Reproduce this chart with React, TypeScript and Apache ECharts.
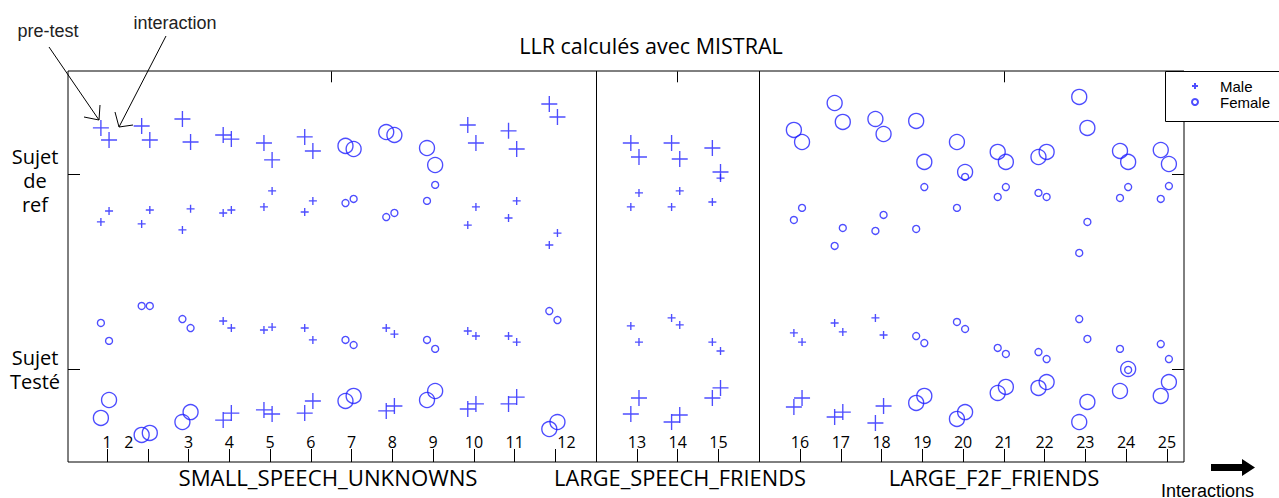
import React, { useEffect, useRef } from "react";
import * as echarts from "echarts";

// ---------- data ----------
const interactionLabels = ["1","2","3","4","5","6","7","8","9","10","11","12","13","14","15","16","17","18","19","20","21","22","23","24","25"];
const groupNames = ["SMALL_SPEECH_UNKNOWNS", "LARGE_SPEECH_FRIENDS", "LARGE_F2F_FRIENDS"];
const groupOf = [0,0,0,0,0,0,0,0,0,0,0,0,1,1,1,2,2,2,2,2,2,2,2,2,2];
const refGender = ["M","M","M","M","M","M","F","F","F","M","M","M","M","M","M","F","F","F","F","F","F","F","F","F","F"];
const testGender = ["F","F","F","M","M","M","F","M","F","M","M","F","M","M","M","M","M","M","F","F","F","F","F","F","F"];

// Sujet de ref (large markers): pre-test / interaction
const refLargePre = [12.36,12.46,12.82,12.00,11.59,11.90,11.44,12.15,11.33,12.51,12.21,13.59,11.59,11.59,11.33,12.26,13.64,12.82,12.72,11.64,11.13,10.87,13.95,11.18,11.23];
const refLargeInt = [11.74,11.74,11.64,11.79,10.72,11.18,11.28,12.00,10.46,11.59,11.28,12.92,10.87,10.77,10.10,11.64,12.67,12.05,10.62,10.10,10.62,11.13,12.36,10.62,10.51];
// Sujet de ref (small markers)
const refSmallPre = [7.54,7.44,7.13,8.00,8.31,8.05,8.51,7.79,8.62,7.38,7.74,6.36,8.31,8.31,8.56,7.64,6.31,7.08,7.18,8.26,8.82,9.03,5.95,8.77,8.72];
const refSmallInt = [8.10,8.15,8.21,8.15,9.13,8.62,8.72,8.00,9.44,8.31,8.62,6.97,9.03,9.13,9.79,8.26,7.23,7.90,9.33,9.85,9.33,8.82,7.54,9.33,9.38];
// Sujet testé (small markers)
const testSmallPre = [2.36,3.23,2.56,2.46,2.00,2.10,1.49,2.10,1.49,1.95,1.69,2.97,2.21,2.62,1.38,1.85,2.36,2.62,1.69,2.41,1.08,0.87,2.56,1.03,1.28];
const testSmallInt = [1.44,3.23,2.10,2.10,2.15,1.49,1.23,1.79,1.03,1.69,1.38,2.51,1.38,2.26,0.92,1.38,1.90,1.74,1.33,2.05,0.77,0.51,1.54,-0.05,0.51];
// Sujet testé (large markers)
const testLargePre = [-2.51,-3.38,-2.72,-2.62,-2.10,-2.26,-1.64,-2.15,-1.59,-2.05,-1.79,-3.08,-2.31,-2.72,-1.49,-1.95,-2.46,-2.77,-1.74,-2.56,-1.23,-0.97,-2.72,-1.13,-1.38];
const testLargeInt = [-1.59,-3.28,-2.21,-2.26,-2.31,-1.64,-1.38,-1.90,-1.13,-1.79,-1.44,-2.72,-1.49,-2.36,-0.97,-1.49,-2.21,-1.90,-1.38,-2.21,-0.92,-0.67,-1.69,0.00,-0.67];

const yTickValues = [0, 10];
const topTickValues = [6.5, 15, 23];

// ---------- layout / style ----------
const X_MIN = 0.043;
const X_MAX = 27.42;
const Y_MIN = -4.77;
const Y_MAX = 15.28;
const TOP_TICK_LEN = 0.56; // in y units (~11px)
const PRE_OFFSET = -0.15;
const INT_OFFSET = 0.05;
const BLUE = "#2020ff";
const CALIBRI = "'Open Sans', 'Noto Sans', sans-serif";
const ARIAL = "'Liberation Sans', Arial, sans-serif";

const positions = interactionLabels.map((_, i) => i + 1 + groupOf[i]);
const separators: number[] = [];
for (let i = 1; i < positions.length; i++) {
  if (groupOf[i] !== groupOf[i - 1]) separators.push((positions[i] + positions[i - 1]) / 2);
}

const SIZE = { M: { large: 16, small: 8 }, F: { large: 15, small: 7 } } as const;

function buildPoints() {
  const male: any[] = [];
  const female: any[] = [];
  const push = (g: string, x: number, y: number, kind: "large" | "small") => {
    const item = { value: [x, y], symbolSize: SIZE[g as "M" | "F"][kind] };
    (g === "M" ? male : female).push(item);
  };
  positions.forEach((p, i) => {
    push(refGender[i], p + PRE_OFFSET, refLargePre[i], "large");
    push(refGender[i], p + INT_OFFSET, refLargeInt[i], "large");
    push(refGender[i], p + PRE_OFFSET, refSmallPre[i], "small");
    push(refGender[i], p + INT_OFFSET, refSmallInt[i], "small");
    push(testGender[i], p + PRE_OFFSET, testSmallPre[i], "small");
    push(testGender[i], p + INT_OFFSET, testSmallInt[i], "small");
    push(testGender[i], p + PRE_OFFSET, testLargePre[i], "large");
    push(testGender[i], p + INT_OFFSET, testLargeInt[i], "large");
  });
  return { male, female };
}

function buildOption() {
  const { male, female } = buildPoints();
  const markerStyle = { color: "rgba(0,0,0,0)", borderColor: BLUE, borderWidth: 1.35 };
  const labelFont = { fontFamily: CALIBRI, fontSize: 16, color: "#000" };
  const tickStyle = { color: "#000", width: 1 };
  const topEdge = Y_MAX - 0.02;
  const markLineData: any[] = [
    ...separators.map((s) => ({ xAxis: s })),
    ...topTickValues.map((t) => [{ coord: [t, topEdge] }, { coord: [t, topEdge - TOP_TICK_LEN] }]),
  ];
  return {
    animation: false,
    backgroundColor: "#fff",
    grid: {
      left: 68, right: 95, top: 71, bottom: 36,
      show: true, borderColor: "#000", borderWidth: 1, backgroundColor: "rgba(0,0,0,0)",
      outerBoundsMode: "none",
    },
    xAxis: {
      type: "value", min: X_MIN, max: X_MAX, position: "bottom",
      axisLine: { show: false, onZero: false }, splitLine: { show: false },
      axisTick: { show: true, inside: true, length: 13, customValues: positions, lineStyle: tickStyle },
      axisLabel: {
        show: true, inside: true, margin: 12, customValues: positions, hideOverlap: false,
        ...labelFont,
        formatter: (v: number) => {
          const i = positions.findIndex((p) => Math.abs(p - v) < 1e-6);
          const lab = i >= 0 ? interactionLabels[i] : "";
          const key = lab === "2" ? "sl" : lab === "12" ? "sr" : "n";
          return `{${key}|${lab}}`;
        },
        rich: {
          n: { ...labelFont },
          sl: { ...labelFont, padding: [0, 38, 0, 0] },
          sr: { ...labelFont, padding: [0, 0, 0, 22] },
        },
      },
    },
    yAxis: [
      {
        type: "value", min: Y_MIN, max: Y_MAX, position: "left",
        axisLine: { show: false, onZero: false }, splitLine: { show: false }, axisLabel: { show: false },
        axisTick: { show: true, inside: true, length: 12, customValues: yTickValues, lineStyle: tickStyle },
      },
      {
        type: "value", min: Y_MIN, max: Y_MAX, position: "right",
        axisLine: { show: false, onZero: false }, splitLine: { show: false }, axisLabel: { show: false },
        axisTick: { show: true, inside: true, length: 12, customValues: yTickValues, lineStyle: tickStyle },
      },
    ],
    legend: {
      data: ["Male", "Female"],
      orient: "vertical",
      left: 1191, top: 78,
      itemWidth: 40, itemHeight: 6, itemGap: 0,
      padding: 0,
      selectedMode: false,
      textStyle: { fontFamily: ARIAL, fontSize: 15, color: "#000", lineHeight: 16 },
      z: 10,
    },
    series: [
      {
        name: "Male", type: "scatter", xAxisIndex: 0, yAxisIndex: 0,
        symbol: "path://M0,5L10,5M5,0L5,10", symbolKeepAspect: true,
        itemStyle: markerStyle, emphasis: { disabled: true }, silent: true,
        clip: false,
        data: male,
        markLine: {
          silent: true, symbol: ["none", "none"], label: { show: false },
          lineStyle: { color: "#000", type: "solid", width: 1 },
          emphasis: { disabled: true },
          data: markLineData,
        },
      },
      {
        name: "Female", type: "scatter", xAxisIndex: 0, yAxisIndex: 0,
        symbol: "circle", symbolKeepAspect: true,
        itemStyle: markerStyle, emphasis: { disabled: true }, silent: true,
        data: female,
      },
    ],
    graphic: [
      { type: "text", x: 651, y: 45, style: { text: "LLR calculés avec MISTRAL", fontFamily: CALIBRI, fontSize: 21.5, fill: "#000", align: "center", verticalAlign: "middle" } },
      { type: "text", x: 35, y: 180, style: { text: "Sujet\nde\nref", fontFamily: CALIBRI, fontSize: 20, lineHeight: 24, fill: "#000", align: "center", verticalAlign: "middle" } },
      { type: "text", x: 35, y: 369, style: { text: "Sujet\nTesté", fontFamily: CALIBRI, fontSize: 20, lineHeight: 24, fill: "#000", align: "center", verticalAlign: "middle" } },
      { type: "text", x: 328, y: 477, style: { text: groupNames[0], fontFamily: CALIBRI, fontSize: 22.2, fill: "#000", align: "center", verticalAlign: "middle" } },
      { type: "text", x: 680, y: 477, style: { text: groupNames[1], fontFamily: CALIBRI, fontSize: 21.8, fill: "#000", align: "center", verticalAlign: "middle" } },
      { type: "text", x: 994, y: 477, style: { text: groupNames[2], fontFamily: CALIBRI, fontSize: 22.1, fill: "#000", align: "center", verticalAlign: "middle" } },
      { type: "text", x: 48, y: 31, style: { text: "pre-test", fontFamily: ARIAL, fontSize: 18, fill: "#222", align: "center", verticalAlign: "middle" } },
      { type: "text", x: 175, y: 23, style: { text: "interaction", fontFamily: ARIAL, fontSize: 18, fill: "#222", align: "center", verticalAlign: "middle" } },
      { type: "line", shape: { x1: 49, y1: 47, x2: 99, y2: 120 }, style: { stroke: "#000", lineWidth: 1 } },
      { type: "polyline", shape: { points: [[100, 105], [99, 120], [84, 117]] }, style: { stroke: "#000", lineWidth: 1, fill: null } },
      { type: "line", shape: { x1: 166, y1: 36, x2: 119, y2: 127 }, style: { stroke: "#000", lineWidth: 1 } },
      { type: "polyline", shape: { points: [[115, 112], [119, 127], [133, 125]] }, style: { stroke: "#000", lineWidth: 1, fill: null } },
      { type: "rect", z: 5, shape: { x: 1165.5, y: 71.5, width: 130, height: 50 }, style: { fill: "#fff", stroke: "#000", lineWidth: 1 } },
      { type: "polygon", shape: { points: [[1211, 464], [1242, 464], [1242, 459], [1255, 467.5], [1242, 476], [1242, 471], [1211, 471]] }, style: { fill: "#000" } },
      { type: "text", x: 1161, y: 491, style: { text: "Interactions", fontFamily: ARIAL, fontSize: 18, fill: "#000", align: "left", verticalAlign: "middle" } },
    ],
  };
}

export default function App() {
  const ref = useRef<HTMLDivElement>(null);
  useEffect(() => {
    if (!ref.current) return;
    const chart = echarts.init(ref.current, null, { renderer: "svg" });
    chart.setOption(buildOption() as any);
    return () => chart.dispose();
  }, []);
  return (
    <div
      ref={ref}
      style={{ position: "fixed", left: 0, top: 0, width: 1279, height: 498, background: "#fff" }}
    />
  );
}
